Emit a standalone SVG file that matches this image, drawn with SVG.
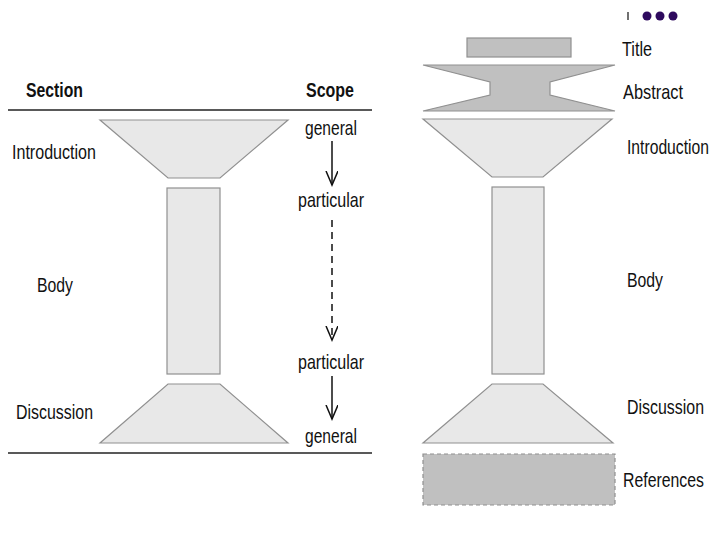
<svg xmlns="http://www.w3.org/2000/svg" width="720" height="540" viewBox="0 0 720 540">
<style>
.t{font-family:"Liberation Sans",Arial,sans-serif;font-size:21px;fill:#111}
.b{font-weight:bold}
.lt{fill:#e8e8e8;stroke:#909090;stroke-width:1.2}
.dk{fill:#c0c0c0;stroke:#909090;stroke-width:1.2}
.rule{stroke:#222;stroke-width:1.5}
.arr{stroke:#111;stroke-width:1.5;fill:none}
</style>
<defs>
<marker id="v" markerWidth="16" markerHeight="14" refX="14" refY="6" orient="auto" markerUnits="userSpaceOnUse" viewBox="0 0 16 14">
<path d="M0,0 L14,6 L0,12" fill="none" stroke="#111" stroke-width="1.5"/>
</marker>
</defs>
<rect width="720" height="540" fill="#fff"/>
<g id="deco">
<line x1="628" y1="12" x2="628" y2="20" stroke="#111" stroke-width="1.2"/>
<circle cx="647" cy="16" r="4.5" fill="#2e0a5e"/>
<circle cx="660" cy="16" r="4.5" fill="#2e0a5e"/>
<circle cx="673" cy="16" r="4.5" fill="#2e0a5e"/>
</g>
<g id="left-header">
<text class="t b" x="26" y="97" textLength="57" lengthAdjust="spacingAndGlyphs">Section</text>
<text class="t b" x="306" y="97" textLength="48" lengthAdjust="spacingAndGlyphs">Scope</text>
<line class="rule" x1="8" y1="110" x2="372" y2="110"/>
<line class="rule" x1="8" y1="453" x2="372" y2="453"/>
</g>
<g id="left-intro">
<polygon class="lt" points="100,120 288,120 220,178 168,178"/>
<text class="t" x="12" y="159" textLength="84" lengthAdjust="spacingAndGlyphs">Introduction</text>
</g>
<g id="left-body">
<rect class="lt" x="167" y="188" width="53" height="186"/>
<text class="t" x="37" y="292" textLength="36" lengthAdjust="spacingAndGlyphs">Body</text>
</g>
<g id="left-discussion">
<polygon class="lt" points="168,384 220,384 288,443 100,443"/>
<text class="t" x="16" y="419" textLength="77" lengthAdjust="spacingAndGlyphs">Discussion</text>
</g>
<g id="scope-labels">
<text class="t" x="305" y="135" textLength="52" lengthAdjust="spacingAndGlyphs">general</text>
<text class="t" x="298" y="207" textLength="66" lengthAdjust="spacingAndGlyphs">particular</text>
<text class="t" x="298" y="369" textLength="66" lengthAdjust="spacingAndGlyphs">particular</text>
<text class="t" x="305" y="443" textLength="52" lengthAdjust="spacingAndGlyphs">general</text>
</g>
<g id="connectors">
<line class="arr" x1="332" y1="141" x2="332" y2="185" marker-end="url(#v)"/>
<line class="arr" x1="332" y1="220" x2="332" y2="340" stroke-dasharray="7,5" marker-end="url(#v)"/>
<line class="arr" x1="332" y1="376" x2="332" y2="419" marker-end="url(#v)"/>
</g>
<g id="right-title">
<rect class="dk" x="467" y="38" width="104" height="19"/>
<text class="t" x="622" y="56" textLength="30" lengthAdjust="spacingAndGlyphs">Title</text>
</g>
<g id="right-abstract">
<polygon class="dk" points="423,65 615,65 550,82 550,95 615,111 423,111 490,95 490,82"/>
<text class="t" x="623" y="99" textLength="60" lengthAdjust="spacingAndGlyphs">Abstract</text>
</g>
<g id="right-intro">
<polygon class="lt" points="423,119 612,119 543,177 492,177"/>
<text class="t" x="627" y="154" textLength="82" lengthAdjust="spacingAndGlyphs">Introduction</text>
</g>
<g id="right-body">
<rect class="lt" x="492" y="187" width="52" height="187"/>
<text class="t" x="627" y="287" textLength="36" lengthAdjust="spacingAndGlyphs">Body</text>
</g>
<g id="right-discussion">
<polygon class="lt" points="492,384 543,384 613,443 423,443"/>
<text class="t" x="627" y="414" textLength="77" lengthAdjust="spacingAndGlyphs">Discussion</text>
</g>
<g id="right-references">
<rect class="dk" x="423" y="454" width="192" height="51" stroke-dasharray="4,3"/>
<text class="t" x="623" y="487" textLength="81" lengthAdjust="spacingAndGlyphs">References</text>
</g>
</svg>
